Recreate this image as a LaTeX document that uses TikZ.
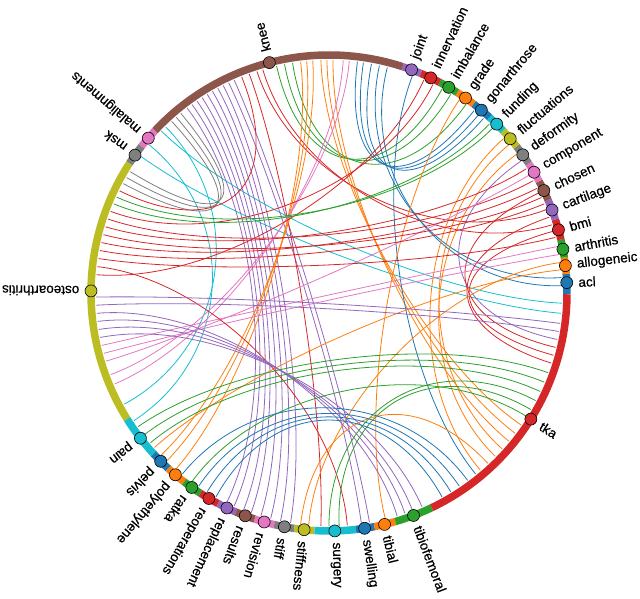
\documentclass[tikz,border=0pt]{standalone}
\usepackage{fontspec}
\setmainfont{Liberation Sans}
\newfontfamily\lblfont{Liberation Sans}[FakeBold=0.6]
\definecolor{c0}{HTML}{1F77B4}
\definecolor{c1}{HTML}{FF7F0E}
\definecolor{c2}{HTML}{2CA02C}
\definecolor{c3}{HTML}{D62728}
\definecolor{c4}{HTML}{9467BD}
\definecolor{c5}{HTML}{8C564B}
\definecolor{c6}{HTML}{E377C2}
\definecolor{c7}{HTML}{7F7F7F}
\definecolor{c8}{HTML}{BCBD22}
\definecolor{c9}{HTML}{17BECF}
\tikzset{
  chord/.style={line width=0.8pt},
  ringseg/.style={line width=7.5pt},
  dot/.style={circle, draw=black, line width=0.6pt, minimum size=12pt, inner sep=0pt},
  lbl/.style={anchor=west, inner sep=0pt, font=\lblfont\fontsize{13.5}{15}\selectfont}
}
\begin{document}
\begin{tikzpicture}[x=1pt,y=1pt]
\useasboundingbox (-329,-305) rectangle (311,293);
% chords
\foreach \a/\b/\c in {
 136/-2.5/c9, 134.5/208.5/c9, 144/-5/c9, 140.5/213.2/c9,
 132.5/152/c7, 131/150.3/c7, 129.5/148.6/c7,
 127.5/244/c4, 126/246/c4, 124.5/248.5/c4, 123/250.5/c4, 121.5/253/c4,
 120/255.5/c4, 118.5/258/c4, 117/260.5/c4, 115.5/278/c4, 114/280/c4,
 112/154/c3, 110/268/c3, 108/21/c3, 106.5/17/c3,
 103/61/c2, 101/58.5/c2, 99/54/c2,
 97/229/c1, 95.5/226/c1, 94/224/c1, 92/-34.5/c1, 90.5/-37/c1, 89/-39.5/c1,
 86.5/203/c6, 85/200.5/c6,
 83/51.5/c0, 81.5/50/c0, 79.5/48.5/c0, 77.5/3.8/c0, 75.5/1.8/c0,
 69/-51/c0,
 63.5/159.5/c3, 66/175.5/c3,
 155.7/45.2/c2, 157.5/46.5/c2,
 56/284/c1, 39.5/-42/c1, 41.5/-49.5/c1, 36.5/-44.5/c1,
 34.5/-11.5/c4,
 28.8/161.5/c3, 32.2/163.5/c3, 30.5/197/c6,
 24.2/165.5/c3, 26.7/167.5/c3, 25.5/-13.5/c3,
 19/-17.5/c3, 22.5/169.5/c3,
 13.8/171.5/c3, 15.4/-15.5/c3,
 9.5/195/c6, 11.5/193/c6,
 5.7/221.5/c1, 7.5/265/c1,
 173.5/274.5/c3,
 181/-7.5/c4, 183/-9.5/c4, 185/287/c4, 187/289/c4, 189/291/c4, 191/293.5/c4,
 215/-20/c2, 217.5/-22.5/c2, 220/-25/c2, 270/-27.5/c2, 272.5/-30/c2, 234/-32/c2,
 263/-47/c1,
 231/-53.5/c0, 236/-56/c0, 238.5/-58.5/c0, 241/-61/c0}{
 \draw[chord, color=\c] (\a:233) .. controls (\a:116) and (\b:116) .. (\b:233);
}
% ring segments, markers and labels
\foreach \n/\m/\s/\e/\c in {
 acl/2.5/-0.3/4.6/c0, allogeneic/6.6/4.6/8.6/c1, arthritis/10.6/8.6/13/c2,
 bmi/15.4/13/18/c3, cartilage/20.4/18/23/c4, chosen/25.5/23/28/c5,
 component/30.5/28/33/c6, deformity/35.5/33/38/c7, fluctuations/40.4/38/43/c8,
 funding/45.2/43/47.6/c9, gonarthrose/50.2/47.6/52.6/c0, grade/55/52.6/57.4/c1,
 imbalance/59.8/57.4/62.3/c2, innervation/64.7/62.3/67.3/c3, joint/69.7/67.3/72/c4,
 knee/104.5/72/137/c5, malalignments/139.4/137/142/c6, msk/144.6/142/147/c7,
 osteoarthritis/179.5/147/212/c8, pain/217.6/212/222.5/c9, pelvis/225/222.5/227.5/c0,
 polyethylene/229.8/227.5/232.5/c1, ratka/234.8/232.5/237.3/c2,
 reoperations/239.7/237.3/242.2/c3, replacement/244.6/242.2/247/c4,
 results/249.4/247/251.8/c5, revision/254.2/251.8/256.7/c6, stiff/259.2/256.7/261.6/c7,
 stiffness/264/261.6/266.5/c8, surgery/271.4/266.5/276.5/c9, swelling/278.6/276.5/281/c0,
 tibial/283.5/281/286.2/c1, tibiofemoral/290.8/286.2/295.6/c2, tka/328/295.6/359.7/c3}{
 \draw[ringseg, color=\c] (\s:238) arc[start angle=\s, end angle=\e, radius=238pt];
 \node[dot, fill=\c] (\n) at (\m:238) {};
 \node[lbl, rotate=\m] (\n-l) at (\m:249.5) {\n};
}
\end{tikzpicture}
\end{document}
